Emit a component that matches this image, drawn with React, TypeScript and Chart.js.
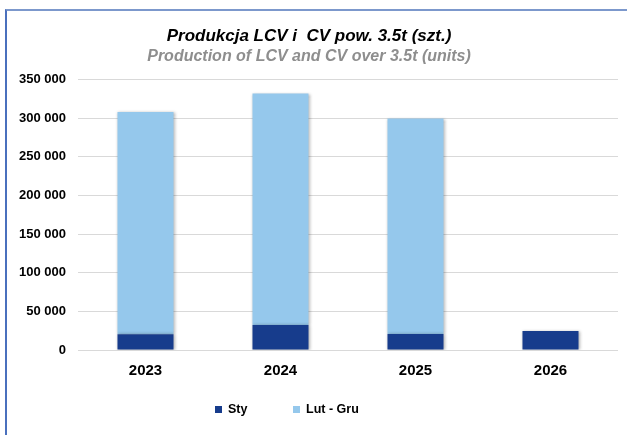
import React, { useEffect, useRef } from "react";
import { Chart, registerables } from "chart.js";

Chart.register(...registerables);

const categories = ["2023", "2024", "2025", "2026"];
const styValues = [20300, 32300, 20700, 24600];
const lutGruValues = [287900, 299600, 278900, null];
const yTicks = [0, 50000, 100000, 150000, 200000, 250000, 300000, 350000];
const seriesNames = ["Sty", "Lut - Gru"];
const titleText = "Produkcja LCV i  CV pow. 3.5t (szt.)";
const subtitleText = "Production of LCV and CV over 3.5t (units)";

const DARK = "#173c8c";
const LIGHT = "#95c8ec";

const fmt = (v: number) => {
  const s = Math.round(v).toString();
  return s.replace(/\B(?=(\d{3})+(?!\d))/g, " ");
};

const shadowPlugin = {
  id: "barShadow",
  beforeDatasetsDraw(chart: any) {
    const ctx = chart.ctx;
    ctx.save();
    ctx.shadowColor = "rgba(0,0,0,0.30)";
    ctx.shadowBlur = 3;
    ctx.shadowOffsetX = 1;
    ctx.shadowOffsetY = 0;
  },
  afterDatasetsDraw(chart: any) {
    chart.ctx.restore();
  },
};

export default function App() {
  const ref = useRef<HTMLCanvasElement | null>(null);

  useEffect(() => {
    document.body.style.margin = "0";
    if (!ref.current) return;
    const chart = new Chart(ref.current, {
      type: "bar",
      data: {
        labels: categories,
        datasets: [
          {
            label: seriesNames[0],
            data: styValues,
            backgroundColor: DARK,
            categoryPercentage: 1,
            barPercentage: 0.415,
          },
          {
            label: seriesNames[1],
            data: lutGruValues as any,
            backgroundColor: LIGHT,
            categoryPercentage: 1,
            barPercentage: 0.415,
          },
        ],
      },
      options: {
        animation: false,
        responsive: false,
        maintainAspectRatio: false,
        layout: { padding: { left: 0, right: 9, top: 0, bottom: 0 } },
        plugins: {
          legend: { display: false },
          tooltip: { enabled: false },
          title: {
            display: true,
            text: titleText,
            color: "#000000",
            font: {
              family: "'Liberation Sans Narrow', 'Liberation Sans', Arial, sans-serif",
              size: 17,
              weight: "bold",
              style: "italic",
            },
            padding: { top: 26, bottom: 1 },
          },
          subtitle: {
            display: true,
            text: subtitleText,
            color: "#8e8e8e",
            font: {
              family: "'Liberation Sans Narrow', 'Liberation Sans', Arial, sans-serif",
              size: 16,
              weight: "bold",
              style: "italic",
            },
            padding: { top: 0, bottom: 13 },
          },
        },
        scales: {
          x: {
            stacked: true,
            grid: { display: false, drawTicks: false },
            border: { display: false },
            ticks: {
              color: "#000000",
              padding: 12,
              font: { family: "'Liberation Sans', Arial, sans-serif", size: 15, weight: "bold" },
            },
            afterFit(scale: any) {
              scale.height = 85;
            },
          },
          y: {
            stacked: true,
            min: 0,
            max: 350000,
            afterBuildTicks(scale: any) {
              scale.ticks = yTicks.map((v) => ({ value: v }));
            },
            grid: { color: "#d9d9d9", drawTicks: false, lineWidth: 1 },
            border: { display: false },
            ticks: {
              color: "#000000",
              padding: 12,
              font: { family: "'Liberation Sans', Arial, sans-serif", size: 13, weight: "bold" },
              callback: (v: any) => fmt(Number(v)),
            },
            afterFit(scale: any) {
              scale.width = 78;
            },
          },
        },
      },
      plugins: [shadowPlugin],
    });
    return () => chart.destroy();
  }, []);

  const legendText: React.CSSProperties = {
    position: "absolute",
    top: 401,
    fontFamily: "'Liberation Sans', Arial, sans-serif",
    fontWeight: "bold",
    fontSize: 12.5,
    lineHeight: "16px",
    color: "#000",
  };

  return (
    <div
      style={{
        position: "relative",
        width: 627,
        height: 435,
        overflow: "hidden",
        background: "#fff",
      }}
    >
      <canvas ref={ref} width={627} height={435} style={{ position: "absolute", left: 0, top: 0 }} />
      <div
        style={{
          position: "absolute",
          left: 5,
          top: 9,
          width: 640,
          height: 440,
          borderLeft: "2px solid #4a70bd",
          borderTop: "2px solid #7c98cc",
          pointerEvents: "none",
        }}
      />
      <div style={{ position: "absolute", left: 215, top: 406, width: 7, height: 7, background: DARK }} />
      <div style={{ ...legendText, left: 228 }}>{seriesNames[0]}</div>
      <div style={{ position: "absolute", left: 293, top: 406, width: 7, height: 7, background: LIGHT }} />
      <div style={{ ...legendText, left: 306 }}>{seriesNames[1]}</div>
    </div>
  );
}
